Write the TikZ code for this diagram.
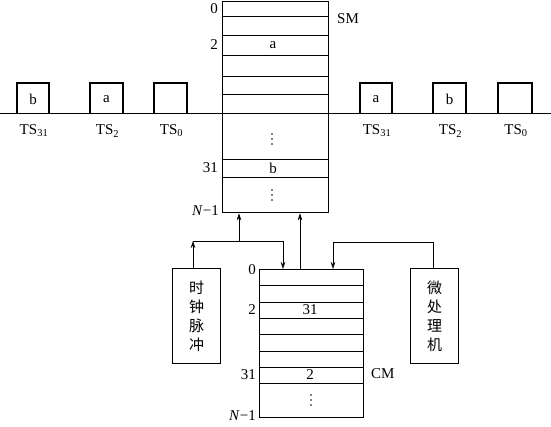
\documentclass[tikz,border=0pt]{standalone}
\usepackage{fontspec}
\setmainfont{Liberation Serif}
\newfontfamily\cjk{Noto Sans CJK SC}
\usetikzlibrary{arrows.meta,calc}
\begin{document}
\begin{tikzpicture}[x=1pt,y=-1pt,
  every node/.style={font=\fontsize{15}{17}\selectfont, inner sep=0pt},
  mem/.style={draw, line width=1.3pt, anchor=north west, minimum width=#1},
  row/.style={line width=0.6pt},
  pulse/.style={line width=1.1pt},
  conn/.style={line width=0.6pt},
  arr/.style={conn, -{Stealth[length=7pt,width=4.5pt]}},
  lbl/.style={anchor=east},
  cbox/.style={draw, line width=1.3pt, minimum width=48pt, minimum height=95pt, anchor=north west, align=center,
     font=\cjk\fontsize{15}{19}\selectfont}
]
\useasboundingbox (0,0) rectangle (551,427);
\newcommand\vdotsat[2]{\foreach \d in {-5,0,5} \fill (#1,#2+\d) circle (0.9pt);}
% timeline
\draw[row] (0,113) -- (551,113);
% SM
\node[mem=106pt, minimum height=211pt] (SM) at (222,1) {};
\foreach \y in {16,35,55,76,94,159,177} \draw[row] (SM.west |- 0,\y) -- (SM.east |- 0,\y);
\node at (273,45) {a};
\node at (273,168) {b};
\vdotsat{272}{139}
\vdotsat{272}{195}
\node[lbl] at (218,9) {0};
\node[lbl] at (218,45) {2};
\node[lbl] at (218,168) {31};
\node[lbl] at (219,211) {\textit{N}−1};
\node[anchor=west] at (337,19) {SM};
% pulses
\foreach \a/\b/\t/\l/\c in {17/49/b/TS\textsubscript{31}/p1, 90/123/a/TS\textsubscript{2}/p2, 154/187//TS\textsubscript{0}/p3,
  360/392/a/TS\textsubscript{31}/p4, 433/466/b/TS\textsubscript{2}/p5, 498/532//TS\textsubscript{0}/p6}{
  \draw[pulse] (\a,113) -- (\a,83) -- (\b,83) -- (\b,113);
  \node (\c) at ({(\a+\b)/2},99) {\t};
  \node at ({(\a+\b)/2+1},131) {\l};
}
% CM
\node[mem=104pt, minimum height=148pt] (CM) at (259,269) {};
\foreach \y in {285,302,318,334,351,367,383} \draw[row] (CM.west |- 0,\y) -- (CM.east |- 0,\y);
\node at (310,310) {31};
\node at (310,375) {2};
\vdotsat{311}{400}
\node[lbl] at (256,270) {0};
\node[lbl] at (256,310) {2};
\node[lbl] at (256,375) {31};
\node[lbl] at (256,416) {\textit{N}−1};
\node[anchor=west] at (371,374) {CM};
% clock and microprocessor
\node[cbox] (clk) at (172,268) {时\\钟\\脉\\冲};
\node[cbox] (mp) at (410,268) {微\\处\\理\\机};
% connectors
\coordinate (j1) at (193,241);
\coordinate (j2) at (283,241);
\coordinate (j3) at (239,241);
\coordinate (k1) at (433,242);
\coordinate (k2) at (333,242);
\draw[arr] (clk.north -| j1) -- (j1);
\draw[conn] (j1) -- (j2);
\draw[arr] (j2) -- (j2 |- CM.north);
\draw[arr] (j3) -- (j3 |- SM.south);
\draw[arr] (CM.north -| 300,0) -- (SM.south -| 300,0);
\draw[conn] (mp.north -| k1) -- (k1) -- (k2);
\draw[arr] (k2) -- (k2 |- CM.north);
\end{tikzpicture}
\end{document}
